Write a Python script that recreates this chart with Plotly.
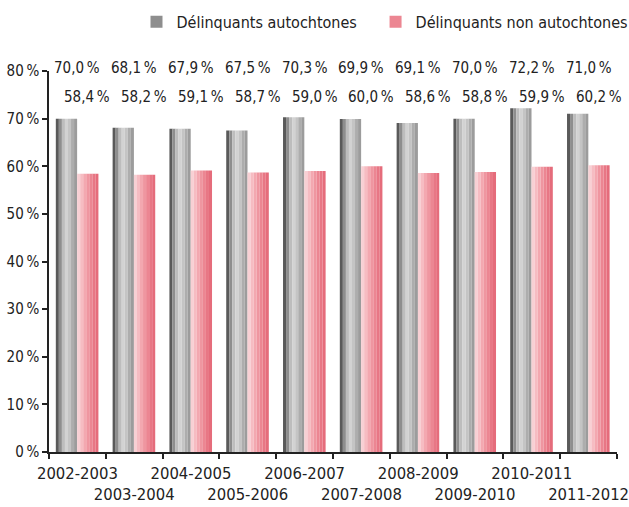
import plotly.graph_objects as go

categories = ["2002-2003", "2003-2004", "2004-2005", "2005-2006", "2006-2007",
              "2007-2008", "2008-2009", "2009-2010", "2010-2011", "2011-2012"]
autochtones = [70.0, 68.1, 67.9, 67.5, 70.3, 69.9, 69.1, 70.0, 72.2, 71.0]
non_autochtones = [58.4, 58.2, 59.1, 58.7, 59.0, 60.0, 58.6, 58.8, 59.9, 60.2]
y_ticks = [0, 10, 20, 30, 40, 50, 60, 70, 80]
series_names = ["Délinquants autochtones", "Délinquants non autochtones"]

FONT = "DejaVu Sans Condensed, Liberation Sans Narrow, sans-serif"
NBSP = "\u202f"

def fmt(v):
    return f"{v:.1f}".replace(".", ",") + NBSP + "%"

# shading slices to mimic the cylinder-like gradient of the original bars
gray_shades = ["#5a5a5a", "#8e8e8e", "#bdbdbd", "#d2d2d2", "#c4c4c4", "#adadad", "#9c9c9c"]
pink_shades = ["#f8d0d4", "#f6bcc2", "#f3a8b0", "#ef96a0", "#ec8692", "#e87785", "#e56c7b"]
BAR_W = 0.375

fig = go.Figure()

def add_series(values, shades, start, name, legend_idx):
    n = len(shades)
    w = BAR_W / n
    for i, col in enumerate(shades):
        fig.add_trace(go.Bar(
            x=categories, y=values, width=w, offset=start + i * w,
            marker=dict(color=col, line=dict(width=0)),
            name=name, legendgroup=name,
            showlegend=(i == legend_idx),
            hoverinfo="skip",
        ))

# trailing no-break spaces widen the gap between the two legend entries
add_series(autochtones, gray_shades, -0.38, series_names[0] + "\u00a0\u00a0\u00a0", 1)
add_series(non_autochtones, pink_shades, -0.005, series_names[1], 4)

ticktext = [c if i % 2 == 0 else "<br>" + c for i, c in enumerate(categories)]

annotations = []
for c, v in zip(categories, autochtones):
    annotations.append(dict(x=c, y=1.008, xref="x", yref="paper", text=fmt(v), showarrow=False,
                            font=dict(family=FONT, size=15, color="#222"), yanchor="middle"))
for c, v in zip(categories, non_autochtones):
    annotations.append(dict(x=c, y=0.932, xref="x", yref="paper", text=fmt(v), showarrow=False, xshift=10,
                            font=dict(family=FONT, size=15, color="#222"), yanchor="middle"))

fig.update_layout(
    width=629, height=507,
    margin=dict(l=49, r=12, t=71, b=55, autoexpand=False),
    paper_bgcolor="white", plot_bgcolor="white",
    barmode="overlay",
    font=dict(family=FONT, size=15, color="#222"),
    showlegend=True,
    legend=dict(orientation="h", xref="container", x=0.217, xanchor="left",
                yref="container", y=0.957, yanchor="middle",
                font=dict(family=FONT, size=16, color="#222"), itemwidth=30,
                bgcolor="rgba(0,0,0,0)"),
    annotations=annotations,
    xaxis=dict(
        type="category", tickmode="array", tickvals=categories, ticktext=ticktext,
        tickson="boundaries", ticks="outside", ticklen=5, tickwidth=1.5, tickcolor="#222",
        showline=True, linecolor="#222", linewidth=1.5, showgrid=False,
        tickfont=dict(family=FONT, size=16.5, color="#222"), tickangle=0, automargin=False,
        ticklabelstandoff=5,
        range=[-0.5, 9.5],
    ),
    yaxis=dict(
        range=[0, 80], tickmode="array", tickvals=y_ticks,
        ticktext=[f"{t}{NBSP}%" for t in y_ticks],
        ticks="outside", ticklen=5, tickwidth=1.5, tickcolor="#222",
        showline=True, linecolor="#222", linewidth=1.5, showgrid=False, zeroline=False,
        tickfont=dict(family=FONT, size=15, color="#222"), automargin=False,
    ),
)

fig.write_html(
    "out.html",
    config={"displayModeBar": False},
    post_script="document.body.style.margin='0';document.body.style.overflow='hidden';",
)
